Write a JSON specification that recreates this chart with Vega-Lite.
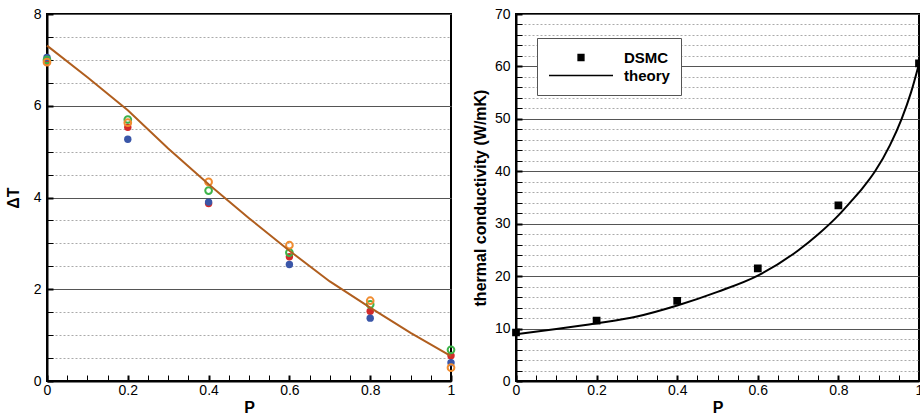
{
  "$schema": "https://vega.github.io/schema/vega-lite/v6.json",
  "padding": {"left": 4, "top": 6, "right": 0, "bottom": 0},
  "spacing": 11,
  "resolve": {"legend": {"shape": "independent"}},
  "config": {
    "font": "Liberation Sans",
    "view": {"stroke": "black", "strokeWidth": 2},
    "axis": {
      "labelFont": "Liberation Sans",
      "labelFontSize": 14,
      "labelColor": "black",
      "titleFont": "Liberation Sans",
      "titleFontSize": 16,
      "titleFontWeight": "bold",
      "titleColor": "black",
      "domainColor": "black",
      "domainWidth": 2,
      "tickColor": "black",
      "tickSize": -6,
      "labelFlush": false,
      "labelOverlap": false,
      "labelBound": false
    }
  },
  "hconcat": [
    {
      "width": 404,
      "height": 367,
      "encoding": {
        "x": {
          "field": "P", "type": "quantitative",
          "scale": {"domain": [0, 1], "nice": false},
          "axis": {
            "title": "P",
            "values": [0,0.05,0.1,0.15,0.2,0.25,0.3,0.35,0.4,0.45,0.5,0.55,0.6,0.65,0.7,0.75,0.8,0.85,0.9,0.95,1],
            "labelExpr": "round(datum.value*20)%4==0 ? format(datum.value,'') : ''",
            "tickWidth": {"condition": {"test": "round(datum.value*20)%4==0", "value": 2}, "value": 1},
            "labelPadding": 8,
            "grid": false,
            "titlePadding": 2
          }
        },
        "y": {
          "field": "dT", "type": "quantitative",
          "scale": {"domain": [0, 8], "nice": false},
          "axis": {
            "title": "ΔT",
            "values": [0,0.5,1,1.5,2,2.5,3,3.5,4,4.5,5,5.5,6,6.5,7,7.5,8],
            "labelExpr": "round(datum.value*2)%4==0 ? format(datum.value,'') : ''",
            "tickWidth": {"condition": {"test": "round(datum.value*2)%4==0", "value": 2}, "value": 1},
            "labelPadding": 12,
            "grid": true,
            "gridDash": {"condition": {"test": "round(datum.value*2)%4==0", "value": []}, "value": [2, 2]},
            "gridColor": {"condition": {"test": "round(datum.value*2)%4==0", "value": "#555555"}, "value": "#aaaaaa"},
            "gridWidth": 1,
            "gridOpacity": 1,
            "titlePadding": 12
          }
        }
      },
      "layer": [
        {
          "data": {"values": [
            {"P": 0, "dT": 6.95, "series": "red"},
            {"P": 0.2, "dT": 5.53, "series": "red"},
            {"P": 0.4, "dT": 3.87, "series": "red"},
            {"P": 0.6, "dT": 2.71, "series": "red"},
            {"P": 0.8, "dT": 1.52, "series": "red"},
            {"P": 1, "dT": 0.55, "series": "red"},
            {"P": 0, "dT": 7.05, "series": "blue"},
            {"P": 0.2, "dT": 5.27, "series": "blue"},
            {"P": 0.4, "dT": 3.9, "series": "blue"},
            {"P": 0.6, "dT": 2.54, "series": "blue"},
            {"P": 0.8, "dT": 1.37, "series": "blue"},
            {"P": 1, "dT": 0.4, "series": "blue"}
          ]},
          "mark": {"type": "circle", "size": 55, "opacity": 1},
          "encoding": {
            "color": {
              "field": "series", "type": "nominal",
              "scale": {"domain": ["blue", "red", "green", "orange"], "range": ["#3a56a8", "#d32a2a", "#3db34a", "#f08c30"]},
              "legend": null
            }
          }
        },
        {
          "data": {"values": [
            {"P": 0, "dT": 7.0, "series": "green"},
            {"P": 0.2, "dT": 5.7, "series": "green"},
            {"P": 0.4, "dT": 4.15, "series": "green"},
            {"P": 0.6, "dT": 2.8, "series": "green"},
            {"P": 0.8, "dT": 1.67, "series": "green"},
            {"P": 1, "dT": 0.68, "series": "green"},
            {"P": 0, "dT": 6.95, "series": "orange"},
            {"P": 0.2, "dT": 5.63, "series": "orange"},
            {"P": 0.4, "dT": 4.34, "series": "orange"},
            {"P": 0.6, "dT": 2.96, "series": "orange"},
            {"P": 0.8, "dT": 1.75, "series": "orange"},
            {"P": 1, "dT": 0.29, "series": "orange"}
          ]},
          "mark": {"type": "point", "shape": "circle", "size": 45, "filled": false, "strokeWidth": 2, "opacity": 1},
          "encoding": {
            "color": {"field": "series", "type": "nominal", "legend": null}
          }
        },
        {
          "data": {"values": [
            {"P": 0, "dT": 7.31},
            {"P": 0.1, "dT": 6.62},
            {"P": 0.2, "dT": 5.9},
            {"P": 0.3, "dT": 5.07},
            {"P": 0.4, "dT": 4.29},
            {"P": 0.5, "dT": 3.55},
            {"P": 0.6, "dT": 2.84},
            {"P": 0.7, "dT": 2.17},
            {"P": 0.8, "dT": 1.6},
            {"P": 0.9, "dT": 1.05},
            {"P": 1, "dT": 0.54}
          ]},
          "mark": {"type": "line", "color": "#b05e1e", "strokeWidth": 2}
        }
      ]
    },
    {
      "width": 403,
      "height": 367,
      "encoding": {
        "x": {
          "field": "P", "type": "quantitative",
          "scale": {"domain": [0, 1], "nice": false},
          "axis": {
            "title": "P",
            "values": [0,0.05,0.1,0.15,0.2,0.25,0.3,0.35,0.4,0.45,0.5,0.55,0.6,0.65,0.7,0.75,0.8,0.85,0.9,0.95,1],
            "labelExpr": "round(datum.value*20)%4==0 ? format(datum.value,'') : ''",
            "tickWidth": {"condition": {"test": "round(datum.value*20)%4==0", "value": 2}, "value": 1},
            "labelPadding": 8,
            "grid": false,
            "titlePadding": 2
          }
        },
        "y": {
          "field": "k", "type": "quantitative",
          "scale": {"domain": [0, 70], "nice": false},
          "axis": {
            "title": "thermal conductivity (W/mK)",
            "values": [0,2,4,6,8,10,12,14,16,18,20,22,24,26,28,30,32,34,36,38,40,42,44,46,48,50,52,54,56,58,60,62,64,66,68,70],
            "labelExpr": "datum.value%10==0 ? format(datum.value,'') : ''",
            "tickWidth": {"condition": {"test": "datum.value%10==0", "value": 2}, "value": 1},
            "labelPadding": 12,
            "grid": true,
            "gridDash": {"condition": {"test": "datum.value%10==0", "value": []}, "value": [2, 2]},
            "gridColor": {"condition": {"test": "datum.value%10==0", "value": "#555555"}, "value": "#aaaaaa"},
            "gridWidth": 1,
            "gridOpacity": 1,
            "titlePadding": 6
          }
        }
      },
      "layer": [
        {
          "data": {"values": [
            {"P": 0, "k": 8.9},
            {"P": 0.1, "k": 9.9},
            {"P": 0.2, "k": 11.0},
            {"P": 0.3, "k": 12.3},
            {"P": 0.4, "k": 14.4},
            {"P": 0.5, "k": 17.0},
            {"P": 0.6, "k": 20.1},
            {"P": 0.7, "k": 24.9},
            {"P": 0.75, "k": 28.0},
            {"P": 0.8, "k": 31.6},
            {"P": 0.833, "k": 34.4},
            {"P": 0.86, "k": 36.8},
            {"P": 0.891, "k": 40.0},
            {"P": 0.928, "k": 45.0},
            {"P": 0.957, "k": 50.0},
            {"P": 0.98, "k": 55.0},
            {"P": 1, "k": 60.5}
          ]},
          "mark": {"type": "line", "color": "black", "strokeWidth": 2, "interpolate": "monotone"}
        },
        {
          "data": {"values": [
            {"P": 0, "k": 9.25, "series": "DSMC"},
            {"P": 0.2, "k": 11.5, "series": "DSMC"},
            {"P": 0.4, "k": 15.3, "series": "DSMC"},
            {"P": 0.6, "k": 21.5, "series": "DSMC"},
            {"P": 0.8, "k": 33.5, "series": "DSMC"},
            {"P": 1, "k": 60.6, "series": "DSMC"}
          ]},
          "mark": {"type": "point", "filled": true, "size": 4050, "color": "black", "stroke": "black", "strokeWidth": 2, "opacity": 1},
          "encoding": {
            "shape": {
              "field": "series", "type": "nominal",
              "scale": {"domain": ["DSMC", "theory"], "range": ["M-0.09,-0.09H0.09V0.09H-0.09Z", "M-1,0H1"]},
              "legend": {
                "title": null,
                "orient": "none",
                "legendX": 21,
                "legendY": 24,
                "symbolSize": 4096,
                "clipHeight": 17,
                "rowPadding": 1,
                "labelOffset": 10,
                "labelFont": "Liberation Sans",
                "labelFontSize": 15,
                "labelFontWeight": "bold",
                "labelColor": "black",
                "fillColor": "white",
                "strokeColor": "#555555",
                "padding": 11,
                "symbolOpacity": 1,
                "encode": {
                  "symbols": {"update": {"stroke": {"value": "black"}, "strokeWidth": {"value": 2}, "fill": {"value": "black"}, "opacity": {"value": 1}}}
                }
              }
            }
          }
        }
      ]
    }
  ]
}
